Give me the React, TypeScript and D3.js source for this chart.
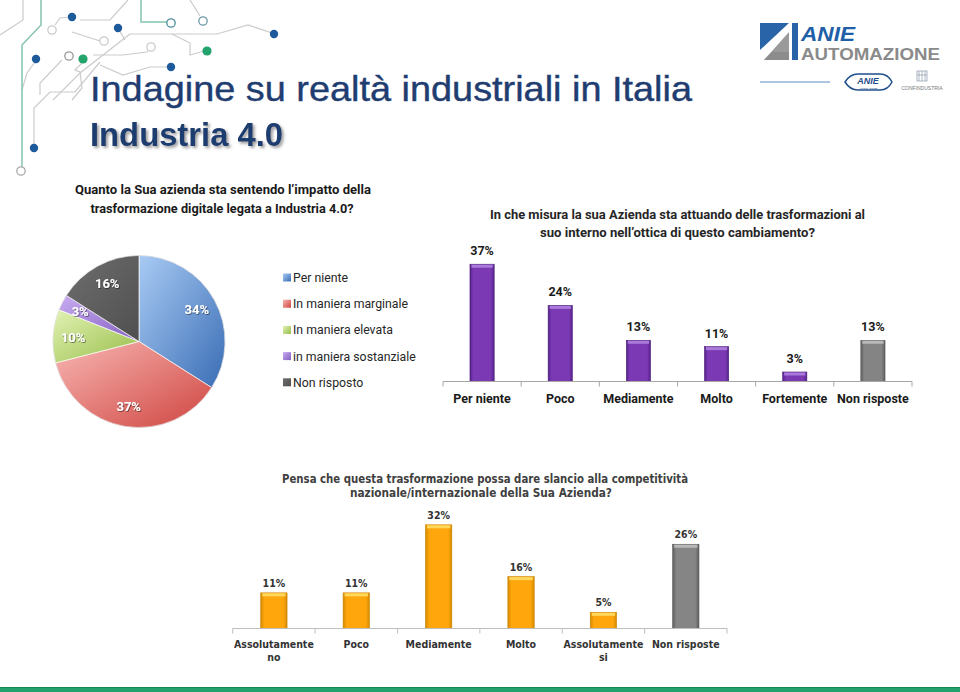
import React from "react";
import * as d3 from "d3";

// ---------- DATA ----------
const pieCategories = [
  "Per niente",
  "In maniera marginale",
  "In maniera elevata",
  "in maniera sostanziale",
  "Non risposto",
];
const pieValues = [34, 37, 10, 3, 16];

const actCategories = ["Per niente", "Poco", "Mediamente", "Molto", "Fortemente", "Non risposte"];
const actValues = [37, 24, 13, 11, 3, 13];

const compCategories = [
  "Assolutamente\nno",
  "Poco",
  "Mediamente",
  "Molto",
  "Assolutamente\nsi",
  "Non risposte",
];
const compValues = [11, 11, 32, 16, 5, 26];

// ---------- STYLES ----------
const pieColors = [
  { light: "#a9cbf4", dark: "#3a6db5" },
  { light: "#f8b6b3", dark: "#cf4540" },
  { light: "#e2f2b4", dark: "#97bd48" },
  { light: "#c8acf2", dark: "#8460c0" },
  { light: "#6e6e6e", dark: "#4f4f4f" },
];
const calibri = "Roboto, 'Liberation Sans', sans-serif";
const tahoma = "'DejaVu Sans Condensed', 'DejaVu Sans', sans-serif";

const PIE_CX = 139;
const PIE_CY = 341.5;
const PIE_R = 86;

function Decoration() {
  const gray = "#cbcbcb";
  const teal = "#86c4ad";
  const grayPaths = [
    "M0,35 L23,20 L23,0",
    "M55,25 L60,18 L70,17",
    "M80,20 L110,20 L128,0",
    "M118,28 L125,40",
    "M130,34 L217,34 L248,25 L272,33",
    "M130,34 L80,73 L53,100",
    "M72,32 L100,41",
    "M82,63 L75,70 L80,72 L82,88 L72,100",
    "M151,47 L147,52 L123,55 L93,55",
    "M100,65 L123,75 L150,67 L168,67",
    "M34,148 L34,108 L50,92 L75,92 L100,62",
    "M22,90 L27,73 L35,62",
    "M40,95 L40,83 L62,60",
    "M190,0 L200,16",
    "M172,34 L190,43 L190,55 L204,51",
  ];
  const blue = [
    [72, 17],
    [118, 28],
    [36, 59],
    [274, 34],
    [171, 67],
    [34, 148],
  ];
  const green = [
    [83, 59],
    [207, 51],
  ];
  const open = [
    [52, 30, gray],
    [104, 41, gray],
    [69, 56, "#9a9a9a"],
    [151, 47, gray],
    [171, 23, "#4d8f9a"],
    [203, 21, "#6f9aa8"],
    [21, 171, "#aaaaaa"],
  ];
  return (
    <g>
      {grayPaths.map((d, i) => (
        <path key={i} d={d} fill="none" stroke={gray} strokeWidth={1.2} />
      ))}
      <path d="M41,0 L41,25 L22,45 L22,167" fill="none" stroke={teal} strokeWidth={1.5} />
      <path d="M141,0 L141,22 L167,22" fill="none" stroke={teal} strokeWidth={1.5} />
      {blue.map(([x, y], i) => (
        <circle key={i} cx={x} cy={y} r={4.2} fill="#1d5a9b" />
      ))}
      {green.map(([x, y], i) => (
        <circle key={i} cx={x} cy={y} r={4.6} fill="#23a46c" />
      ))}
      {open.map(([x, y, c], i) => (
        <circle key={i} cx={x as number} cy={y as number} r={4.2} fill="#fff" stroke={c as string} strokeWidth={1.3} />
      ))}
    </g>
  );
}

function Logo() {
  return (
    <g>
      <polygon points="760,23 789,23 760,50" fill="#2a64a8" />
      <polygon points="764,60 789,32 789,60" fill="#9a9a9a" />
      <polygon points="772,52 789,52 789,60 764,60" fill="#8c8c8c" />
      <rect x={792} y={23} width={6} height={37} fill="#2a64a8" />
      <text x={801} y={41} fontFamily="'Liberation Sans', Arial, sans-serif" fontWeight={700} fontStyle="italic"
        fontSize={20} fill="#1f5fa8" textLength={54} lengthAdjust="spacingAndGlyphs">ANIE</text>
      <text x={801} y={60} fontFamily="'Liberation Sans', Arial, sans-serif" fontWeight={700}
        fontSize={17} fill="#8a8a8a" textLength={139} lengthAdjust="spacingAndGlyphs">AUTOMAZIONE</text>
      <line x1={760} x2={830} y1={82} y2={82} stroke="#5b8ec4" strokeWidth={1} />
      <path d="M845,82 Q850,74 858,74 L880,74 Q888,74 892,82 Q888,90 880,90 L858,90 Q850,90 845,82 Z"
        fill="#fff" stroke="#1f4f8a" strokeWidth={1.5} />
      <text x={868} y={84} textAnchor="middle" fontFamily="'Liberation Sans', Arial, sans-serif" fontWeight={700}
        fontStyle="italic" fontSize={9} fill="#1f4f8a">ANIE</text>
      <text x={868} y={88.5} textAnchor="middle" fontFamily="'Liberation Sans', Arial, sans-serif" fontSize={2.5} fill="#1f4f8a">AUTOMAZIONE</text>
      <g fill="none" stroke="#9aa3b5" strokeWidth={0.8}>
        <rect x={917} y={71} width={10} height={10} />
        <line x1={919} x2={919} y1={71} y2={81} />
        <line x1={922} x2={922} y1={71} y2={81} />
        <line x1={925} x2={925} y1={71} y2={81} />
        <line x1={917} x2={927} y1={75} y2={75} />
      </g>
      <text x={922} y={90} textAnchor="middle" fontFamily="'Liberation Sans', Arial, sans-serif" fontSize={5} fill="#777">CONFINDUSTRIA</text>
    </g>
  );
}

export default function App() {
  // ---- pie ----
  const pieGen = d3.pie<number>().sort(null).value((d) => d);
  const arcs = pieGen(pieValues);
  const arcGen = d3.arc<d3.PieArcDatum<number>>().innerRadius(0).outerRadius(PIE_R);
  const labelArc = d3.arc<d3.PieArcDatum<number>>().innerRadius(66).outerRadius(66);

  // ---- top-right bars ----
  const xA = d3.scaleBand<string>().domain(actCategories).range([443, 912]).padding(0);
  const yA = d3.scaleLinear().domain([0, 40]).range([381.5, 381.5 - 40 * 3.17]);
  const bwA = xA.bandwidth() * 0.31;

  // ---- bottom bars ----
  const xB = d3.scaleBand<string>().domain(compCategories).range([232.7, 727]).padding(0);
  const yB = d3.scaleLinear().domain([0, 35]).range([628.5, 628.5 - 35 * 3.24]);
  const bwB = xB.bandwidth() * 0.32;

  const ticksA = [...actCategories.map((c) => xA(c) as number), 912];
  const ticksB = [...compCategories.map((c) => xB(c) as number), 727];

  const legendY = (i: number) => 282 + i * 26.2;

  const barGrad = (id: string, edge: string, mid: string) => (
    <linearGradient id={id} x1="0" y1="0" x2="1" y2="0">
      <stop offset="0" stopColor={edge} />
      <stop offset="0.14" stopColor={mid} />
      <stop offset="0.86" stopColor={mid} />
      <stop offset="1" stopColor={edge} />
    </linearGradient>
  );

  return (
    <svg width={960} height={692} style={{ position: "absolute", left: 0, top: 0, background: "#fff" }}>
      <defs>
        {pieColors.map((c, i) => (
          <linearGradient key={i} id={`pie${i}`} x1="0" y1="0" x2="1" y2="1">
            <stop offset="0" stopColor={c.light} />
            <stop offset="1" stopColor={c.dark} />
          </linearGradient>
        ))}
        {barGrad("gPurple", "#55228a", "#7b39b4")}
        {barGrad("gGrayA", "#5e5e5e", "#848484")}
        {barGrad("gOrange", "#d48a00", "#ffa60c")}
        {barGrad("gGrayB", "#5e5e5e", "#858585")}
        <filter id="titleShadow" x="-5%" y="-20%" width="115%" height="160%">
          <feDropShadow dx={2} dy={2} stdDeviation={1.4} floodColor="#7a7a7a" floodOpacity={0.75} />
        </filter>
        <filter id="pieLbl" x="-20%" y="-30%" width="140%" height="160%">
          <feDropShadow dx={0.8} dy={0.8} stdDeviation={0.7} floodColor="#000" floodOpacity={0.55} />
        </filter>
      </defs>

      <Decoration />
      <Logo />

      {/* Titles */}
      <text x={90} y={101} fontFamily="'Liberation Sans', Arial, sans-serif" fontSize={35} fill="#1f3d70"
        stroke="#1f3d70" strokeWidth={0.4}
        textLength={602} lengthAdjust="spacingAndGlyphs">Indagine su realtà industriali in Italia</text>
      <text x={90} y={146} fontFamily="'Liberation Sans', Arial, sans-serif" fontWeight={700} fontSize={33}
        fill="#1f3d70" textLength={193} lengthAdjust="spacingAndGlyphs" filter="url(#titleShadow)">Industria 4.0</text>

      {/* Pie subtitle */}
      <g fontFamily={calibri} fontWeight={700} fontSize={13} fill="#1a1a1a" textAnchor="middle">
        <text x={223} y={194} textLength={296} lengthAdjust="spacingAndGlyphs">Quanto la Sua azienda sta sentendo l’impatto della</text>
        <text x={222} y={213} textLength={263} lengthAdjust="spacingAndGlyphs">trasformazione digitale legata a Industria 4.0?</text>
      </g>

      {/* Pie */}
      <g transform={`translate(${PIE_CX},${PIE_CY})`}>
        {arcs.map((a, i) => (
          <path key={i} d={arcGen(a) as string} fill={`url(#pie${i})`} stroke="#ffffff" strokeOpacity={0.75} strokeWidth={0.9} />
        ))}
        <circle r={PIE_R} fill="none" stroke="#000" strokeOpacity={0.12} strokeWidth={0.8} />
        {arcs.map((a, i) => {
          const [lx, ly] = labelArc.centroid(a);
          return (
            <text key={i} x={lx} y={ly + 4.5} textAnchor="middle" fontFamily={calibri} fontWeight={700}
              fontSize={13} fill="#ffffff" filter="url(#pieLbl)">{`${pieValues[i]}%`}</text>
          );
        })}
      </g>

      {/* Legend */}
      <g fontFamily={calibri} fontSize={12.3} fill="#262626">
        {pieCategories.map((c, i) => (
          <g key={c}>
            <rect x={283} y={legendY(i) - 8.5} width={8} height={8} fill={`url(#pie${i})`} />
            <text x={293} y={legendY(i)}>{c}</text>
          </g>
        ))}
      </g>

      {/* Top-right chart */}
      <g fontFamily={calibri} fontWeight={700} fontSize={13} fill="#262626" textAnchor="middle">
        <text x={677.5} y={219} textLength={375} lengthAdjust="spacingAndGlyphs">In che misura la sua Azienda sta attuando delle trasformazioni al</text>
        <text x={677.5} y={237} textLength={275} lengthAdjust="spacingAndGlyphs">suo interno nell’ottica di questo cambiamento?</text>
      </g>
      {actCategories.map((c, i) => {
        const cx = (xA(c) as number) + xA.bandwidth() / 2;
        const isGray = c === "Non risposte";
        const top = yA(actValues[i]);
        const h = yA(0) - top;
        return (
          <g key={c}>
            <rect x={cx - bwA / 2} y={top} width={bwA} height={h}
              fill={isGray ? "url(#gGrayA)" : "url(#gPurple)"} stroke={isGray ? "#5a5a5a" : "#4c1f78"} strokeWidth={0.6} />
            <rect x={cx - bwA / 2 + 1.5} y={top + 0.5} width={bwA - 3} height={Math.min(3, h)}
              fill={isGray ? "#b8b8b8" : "#a97ad9"} />
            <text x={cx} y={top - 9} textAnchor="middle" fontFamily={calibri} fontWeight={700} fontSize={12.5} fill="#1a1a1a">
              {`${actValues[i]}%`}
            </text>
            <text x={cx} y={403} textAnchor="middle" fontFamily={calibri} fontWeight={700} fontSize={12.5} fill="#1a1a1a">
              {c}
            </text>
          </g>
        );
      })}
      <line x1={443} x2={912} y1={381.5} y2={381.5} stroke="#a6a6a6" strokeWidth={1} />
      {ticksA.map((t, i) => (
        <line key={i} x1={t} x2={t} y1={381.5} y2={386.5} stroke="#a6a6a6" strokeWidth={1} />
      ))}

      {/* Bottom chart */}
      <g fontFamily={tahoma} fontWeight={700} fontSize={11.5} fill="#404040" textAnchor="middle">
        <text x={485} y={483} textLength={406} lengthAdjust="spacingAndGlyphs">Pensa che questa trasformazione possa dare slancio alla competitività</text>
        <text x={481} y={497} textLength={262} lengthAdjust="spacingAndGlyphs">nazionale/internazionale della Sua Azienda?</text>
      </g>
      {compCategories.map((c, i) => {
        const cx = (xB(c) as number) + xB.bandwidth() / 2;
        const isGray = c === "Non risposte";
        const top = yB(compValues[i]);
        const h = yB(0) - top;
        const lines = c.split("\n");
        return (
          <g key={c}>
            <rect x={cx - bwB / 2} y={top} width={bwB} height={h}
              fill={isGray ? "url(#gGrayB)" : "url(#gOrange)"} stroke={isGray ? "#5a5a5a" : "#c98300"} strokeWidth={0.6} />
            <rect x={cx - bwB / 2 + 1.5} y={top + 0.5} width={bwB - 3} height={Math.min(3, h)}
              fill={isGray ? "#b8b8b8" : "#ffd85c"} />
            <text x={cx} y={top - 6} textAnchor="middle" fontFamily={tahoma} fontWeight={700} fontSize={10.5} fill="#333">
              {`${compValues[i]}%`}
            </text>
            {lines.map((l, j) => (
              <text key={j} x={cx} y={648 + j * 12.5} textAnchor="middle" fontFamily={tahoma} fontWeight={700}
                fontSize={10.5} fill="#333">{l}</text>
            ))}
          </g>
        );
      })}
      <line x1={232.7} x2={727} y1={628.5} y2={628.5} stroke="#bdbdbd" strokeWidth={1} />
      {ticksB.map((t, i) => (
        <line key={i} x1={t} x2={t} y1={628.5} y2={633.5} stroke="#bdbdbd" strokeWidth={1} />
      ))}

      {/* Bottom stripe */}
      <rect x={0} y={687} width={960} height={5} fill="#22a06e" />
      <rect x={0} y={687} width={960} height={1} fill="#178656" />
    </svg>
  );
}
